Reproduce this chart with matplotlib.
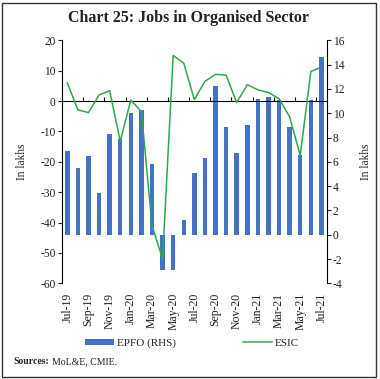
import matplotlib
matplotlib.use("Agg")
import matplotlib.pyplot as plt
import matplotlib.transforms as mtransforms
from matplotlib.patches import Rectangle, Patch
from matplotlib.lines import Line2D
import numpy as np

months = ['Jul-19', 'Aug-19', 'Sep-19', 'Oct-19', 'Nov-19', 'Dec-19', 'Jan-20', 'Feb-20',
          'Mar-20', 'Apr-20', 'May-20', 'Jun-20', 'Jul-20', 'Aug-20', 'Sep-20', 'Oct-20',
          'Nov-20', 'Dec-20', 'Jan-21', 'Feb-21', 'Mar-21', 'Apr-21', 'May-21', 'Jun-21', 'Jul-21']
epfo = [6.9, 5.5, 6.45, 3.45, 8.25, 7.85, 10.0, 10.25, 5.8, -2.9, -2.9, 1.25, 5.05,
        6.3, 12.2, 8.9, 6.7, 9.0, 11.15, 11.3, 11.1, 8.9, 6.55, 11.1, 14.65]
esic = [6.0, -2.9, -3.8, 2.0, 3.4, -13.2, 0.3, -3.5, -41.0, -52.0, 15.0, 12.5, 0.5,
        6.5, 8.8, 8.5, -0.5, 5.4, 3.7, 2.8, 0.8, -5.2, -17.9, 9.7, 11.2]
left_ticks = [-60, -50, -40, -30, -20, -10, 0, 10, 20]
right_ticks = [-4, -2, 0, 2, 4, 6, 8, 10, 12, 14, 16]

plt.rcParams['font.family'] = ['Liberation Serif', 'DejaVu Serif']

BLUE = '#4472C4'
GREEN = '#2EA84F'
TXT = '#222222'

fig = plt.figure(figsize=(3.8, 3.79), dpi=100)
ax = fig.add_axes([62/380, 1-283.3/379, (326.7-62)/380, (283.3-40.3)/379])
ax2 = ax.twinx()

x = np.arange(len(months))
ax2.bar(x, epfo, width=0.42, color=BLUE, zorder=2)
ax.plot(x, esic, color=GREEN, lw=1.1, zorder=3)

ax.set_zorder(ax2.get_zorder() + 1)
ax.patch.set_visible(False)

ax.set_xlim(-0.5, len(months) - 0.5)
ax.set_ylim(-60, 20)
ax2.set_ylim(-4, 16)
ax.set_yticks(left_ticks)
ax2.set_yticks(right_ticks)
ax.set_yticklabels([str(v) for v in left_ticks])
ax2.set_yticklabels([str(v) for v in right_ticks])

for a in (ax, ax2):
    a.spines['top'].set_visible(False)
    a.tick_params(axis='y', labelsize=8.3, length=3, width=0.8, pad=1.5, colors=TXT)
ax2.spines['bottom'].set_visible(False)
ax2.spines['left'].set_visible(False)
ax.spines['right'].set_visible(False)
ax.spines['bottom'].set_position(('data', 0))
for a in (ax, ax2):
    for s in a.spines.values():
        s.set_linewidth(0.8)

ax.set_xticks(x[::2])
ax.set_xticklabels([])
ax.set_xticks(np.arange(-0.5, len(months), 2), minor=True)
ax.tick_params(axis='x', which='major', length=0)
ax.tick_params(axis='x', which='minor', direction='in', length=3, width=0.8)

trans = mtransforms.blended_transform_factory(ax.transData, ax.transAxes)
for i in range(0, len(months), 2):
    ax.text(x[i], -0.038, months[i], rotation=90, ha='center', va='top',
            fontsize=8.5, transform=trans, color=TXT)

ax.set_ylabel('In lakhs', fontsize=8.3, labelpad=9, color=TXT)
ax2.set_ylabel('In lakhs', fontsize=8.3, labelpad=11, color=TXT)

fig.text(189/380, 1-18/379, 'Chart 25: Jobs in Organised Sector', ha='center', va='center',
         fontsize=11.5, fontweight='bold', color=TXT)

handles = [Patch(facecolor=BLUE, edgecolor='none'), Line2D([0], [0], color=GREEN, lw=1.1)]
fig.legend(handles, ['EPFO (RHS)', 'ESIC'], ncol=2, loc='center',
           bbox_to_anchor=(192/380, 1-343/379), frameon=False, fontsize=8,
           handlelength=2.6, handleheight=0.45, handletextpad=0.3, columnspacing=6.0,
           labelcolor=TXT)

fig.text(13/380, 1-362/379, 'Sources:', fontsize=7, fontweight='bold', ha='left', va='center', color=TXT)
fig.text(52/380, 1-362/379, 'MoL&E, CMIE.', fontsize=7, ha='left', va='center', color=TXT)

fig.add_artist(Rectangle((2/380, 2/379), 374/380, 374/379, transform=fig.transFigure,
                         fill=False, edgecolor='#333333', lw=1.0))

fig.savefig('out.png', dpi=100)
